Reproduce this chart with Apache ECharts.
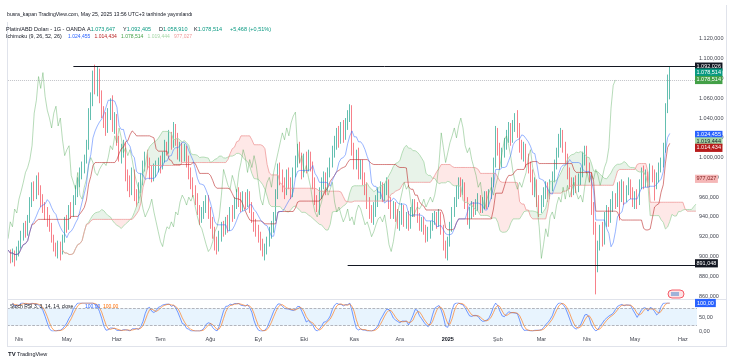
<!DOCTYPE html>
<html><head><meta charset="utf-8">
<script src="https://cdn.jsdelivr.net/npm/echarts/dist/echarts.min.js"></script>
<style>html,body{margin:0;padding:0;background:#fff}#c{width:751px;height:358px}</style>
</head><body><div id="c"></div>
<script>
// ---------- DATA ----------
const startDay = '2024-03-25';            // first bar (Monday)
const categoryCount = 317;                 // 305 daily bars + future space
const monthNames = ['Oca','Şub','Mar','Nis','May','Haz','Tem','Ağu','Eyl','Eki','Kas','Ara'];
// daily candles [open, close, low, high]
const candles = [
[910,904,899,914],[904,897,893,907],[897,903,894,908],[903,899,890,906],[899,906,896,910],
[906,912,900,916],[912,921,908,926],[921,930,916,934],[930,925,919,936],[925,938,921,942],
[938,955,934,960],[955,970,950,975],[970,962,956,976],[962,976,958,982],[976,968,962,985],
[968,958,950,972],[958,950,944,963],[950,944,937,955],[944,936,930,950],[936,930,925,942],
[930,918,914,934],[918,910,905,922],[910,906,900,914],[906,912,898,916],[912,905,896,915],
[905,918,902,922],[918,935,914,940],[935,930,924,942],[930,948,927,952],[948,944,938,955],
[944,958,940,962],[958,966,952,972],[966,975,960,980],[975,985,970,990],[985,990,978,996],
[990,998,984,1003],[998,1012,994,1018],[1012,1045,1008,1050],[1045,1058,1038,1066],[1058,1082,1052,1088],
[1082,1070,1064,1094],[1070,1086,1062,1092],[1086,1062,1055,1090],[1062,1048,1040,1068],[1048,1040,1030,1052],
[1040,1030,1022,1046],[1030,1045,1025,1050],[1045,1052,1038,1060],[1052,1032,1026,1063],[1032,1040,1024,1046],
[1040,1018,1012,1044],[1018,1002,996,1022],[1002,1008,994,1014],[1008,1012,1000,1018],[1012,982,976,1015],
[982,975,966,988],[975,968,960,982],[968,985,962,990],[985,962,956,988],[962,958,950,968],
[958,970,954,975],[970,978,964,984],[978,992,972,997],[992,1000,986,1006],[1000,995,988,1008],
[995,985,978,1000],[985,982,975,992],[982,988,976,994],[988,992,980,997],[992,995,985,1000],
[995,992,984,1002],[992,1000,988,1006],[1000,1012,995,1018],[1012,1008,1002,1016],[1008,1022,1004,1028],
[1022,1015,1008,1026],[1015,1030,1010,1036],[1030,1020,1012,1034],[1020,1005,998,1025],[1005,1010,996,1016],
[1010,1002,995,1015],[1002,1008,996,1014],[1008,998,990,1012],[998,985,978,1002],[985,975,968,990],
[975,968,960,980],[968,960,952,972],[960,948,942,964],[948,940,932,952],[940,945,934,950],
[945,950,938,956],[950,958,944,962],[958,945,938,962],[945,935,928,950],[935,925,918,940],
[925,915,906,930],[915,910,902,920],[910,922,905,926],[922,930,915,935],[930,928,920,936],
[928,935,922,940],[935,930,924,942],[930,945,926,950],[945,942,935,952],[942,955,938,960],
[955,962,948,968],[962,958,950,970],[958,952,945,965],[952,960,946,966],[960,956,948,965],
[956,962,950,968],[962,950,944,966],[950,940,934,955],[940,932,925,945],[932,928,920,938],
[928,920,914,932],[920,912,906,925],[912,905,900,918],[905,908,896,913],[908,915,902,920],
[915,925,910,930],[925,930,918,936],[930,940,924,945],[940,962,936,968],[962,988,958,994],
[988,980,972,995],[980,972,965,988],[972,968,958,980],[968,982,962,988],[982,975,968,990],
[975,965,958,980],[965,985,960,990],[985,995,980,1002],[995,1008,990,1014],[1008,1000,994,1016],
[1000,985,978,1005],[985,998,980,1004],[998,990,984,1006],[990,1002,986,1008],[1002,992,986,1006],
[992,975,968,996],[975,958,952,980],[958,952,945,962],[952,965,942,970],[965,975,958,980],
[975,980,968,986],[980,970,962,985],[970,985,966,990],[985,995,980,1000],[995,1005,990,1012],
[1005,1015,1000,1022],[1015,1025,1008,1030],[1025,1018,1010,1032],[1018,1030,1014,1036],[1030,1022,1015,1038],
[1022,1035,1018,1040],[1035,1042,1028,1048],[1042,1046,1036,1054],[1046,1008,1002,1053],[1008,995,988,1015],
[995,1002,988,1008],[1002,985,978,1010],[985,992,978,998],[992,980,972,998],[980,970,962,985],
[970,955,948,975],[955,945,938,960],[945,940,934,952],[940,948,932,955],[948,955,940,962],
[955,965,950,970],[965,970,958,976],[970,962,955,975],[962,968,956,974],[968,975,962,980],
[975,955,948,978],[955,945,938,960],[945,950,938,956],[950,942,935,955],[942,935,928,948],
[935,940,926,946],[940,948,932,954],[948,936,930,952],[936,940,928,945],[940,932,926,946],
[932,945,928,950],[945,952,940,958],[952,948,940,958],[948,940,934,955],[940,932,926,944],
[932,935,925,940],[935,928,922,940],[928,920,914,932],[920,925,915,930],[925,932,918,936],
[932,938,926,944],[938,940,932,946],[940,935,928,945],[935,942,930,948],[942,928,922,945],
[928,912,906,932],[912,905,898,916],[905,915,896,920],[915,930,910,935],[930,945,925,950],
[945,955,940,960],[955,965,950,972],[965,975,958,980],[975,968,960,980],[968,972,962,978],
[972,955,948,975],[955,940,932,960],[940,945,928,950],[945,950,938,956],[950,948,940,955],
[948,952,942,958],[952,958,946,964],[958,950,944,962],[950,955,944,960],[955,960,948,966],
[960,955,948,966],[955,962,950,968],[962,975,958,980],[975,995,970,1000],[995,1025,990,1032],
[1025,1010,1002,1030],[1010,995,988,1015],[995,1005,990,1010],[1005,1015,1000,1020],[1015,1022,1008,1028],
[1022,1030,1015,1036],[1030,1020,1012,1035],[1020,1032,1015,1038],[1032,1040,1026,1045],[1040,1030,1020,1048],
[1030,1012,1005,1035],[1012,1005,998,1018],[1005,1010,996,1016],[1010,998,990,1014],[998,990,984,1004],
[990,982,975,996],[982,970,962,988],[970,975,960,980],[975,958,950,978],[958,948,940,962],
[948,958,944,962],[958,965,950,970],[965,970,958,976],[970,962,955,975],[962,972,958,978],
[972,980,966,986],[980,992,975,998],[992,1005,988,1010],[1005,1018,1000,1024],[1018,1022,1010,1030],
[1022,1012,1005,1028],[1012,1000,994,1016],[1000,985,978,1004],[985,975,968,990],[975,968,960,980],
[968,975,962,980],[975,970,964,982],[970,978,965,984],[978,985,972,990],[985,1000,980,1006],
[1000,1008,992,1012],[1008,990,984,1012],[990,982,975,995],[982,950,942,985],[950,930,922,955],
[930,898,861.649,935],[898,912,884,916],[912,928,906,932],[928,920,910,935],[920,940,912,945],
[940,945,930,952],[945,938,930,950],[938,952,934,958],[952,960,945,966],[960,955,948,964],
[955,970,950,975],[970,958,936.463,976],[958,972,955,978],[972,960,952,976],[960,968,955,972],
[968,975,962,980],[975,965,958,978],[965,958,950,970],[958,962,948,966],[962,955,948,968],
[955,972,952,978],[972,985,968,990],[985,975,968,992],[975,982,970,988],[982,978,970,986],
[978,988,970,994],[988,982,975,992],[982,972,956.505,988],[972,980,968,985],[980,990,975,995],
[990,996,985,1000],[996,1010,990,1015],[1010,1050,1005,1055],[1050,1073.046,1045,1084],[1073.647,1078.514,1058.91,1092.405]
];
const priceTicks = [860,880,900,920,940,960,980,1000,1020,1040,1060,1080,1100,1120,1140];
const levelHigh = 1092.026, levelHighStart = 30;
const levelLow = 891.048, levelLowStart = 156;
const lastClose = 1078.514;
const ohlcHeader = ['1.073,647','1.092,405','1.058,910','1.078,514','+5,468 (+0,51%)'];
const ichiHeader = ['1.024,455','1.014,434','1.078,514','1.019,444','977,027'];
const stochHeader = ['100,00','100,00'];
// ---------- helpers ----------
const categories = [];
{ const d = new Date(startDay + 'T00:00:00Z');
  while (categories.length < categoryCount) { const w = d.getUTCDay(); if (w !== 0 && w !== 6) categories.push(d.toISOString().slice(0,10)); d.setUTCDate(d.getUTCDate()+1); } }
const isMonthStart = categories.map((c,i) => i > 0 && c.slice(5,7) !== categories[i-1].slice(5,7));
function tr(v, d) { const s = v.toFixed(d); let [ip, fp] = s.split('.'); ip = ip.replace(/\B(?=(\d{3})+(?!\d))/g, '.'); return fp ? ip + ',' + fp : ip; }
const N = candles.length;
const close = candles.map(c => c[1]), low = candles.map(c => c[2]), high = candles.map(c => c[3]);
function mid(i, len) { let mx = -Infinity, mn = Infinity; for (let k = Math.max(0, i-len+1); k <= i; k++) { mx = Math.max(mx, high[k]); mn = Math.min(mn, low[k]); } return (mx+mn)/2; }
const blank = () => new Array(categoryCount).fill('-');
const tenkan = blank(), kijun = blank(), spanA = blank(), spanB = blank(), lag = blank();
for (let i = 0; i < N; i++) {
  tenkan[i] = mid(i, 9); kijun[i] = mid(i, 26);
  if (i + 25 < categoryCount) { spanA[i+25] = (tenkan[i] + kijun[i]) / 2; spanB[i+25] = mid(i, 52); }
  if (i - 25 >= 0) lag[i-25] = close[i];
}
const cloudBase = blank(), cloudUp = blank(), cloudDn = blank();
for (let j = 0; j < categoryCount; j++) {
  if (spanA[j] !== '-' && spanB[j] !== '-') {
    cloudBase[j] = Math.min(spanA[j], spanB[j]);
    cloudUp[j] = Math.max(spanA[j] - spanB[j], 0);
    cloudDn[j] = Math.max(spanB[j] - spanA[j], 0);
  }
}
// Stoch RSI (3,3,14,14)
const rsi = new Array(N).fill(null); let ag = 0, al = 0;
for (let i = 1; i < N; i++) { const ch = close[i]-close[i-1]; const g = Math.max(ch,0), l = Math.max(-ch,0);
  if (i <= 14) { ag = (ag*(i-1)+g)/i; al = (al*(i-1)+l)/i; } else { ag = (ag*13+g)/14; al = (al*13+l)/14; }
  rsi[i] = al === 0 ? 100 : 100 - 100/(1+ag/al); }
const st = new Array(N).fill(null);
for (let i = 2; i < N; i++) { let mx=-Infinity, mn=Infinity; for (let k = Math.max(1,i-13); k <= i; k++) { mx=Math.max(mx,rsi[k]); mn=Math.min(mn,rsi[k]); } st[i] = mx===mn ? 50 : (rsi[i]-mn)/(mx-mn)*100; }
const K = blank(), D = blank();
for (let i = 2; i < N; i++) { let s=0,n=0; for (let k=Math.max(2,i-2);k<=i;k++){s+=st[k];n++;} K[i]=s/n; }
for (let i = 2; i < N; i++) { let s=0,n=0; for (let k=Math.max(2,i-2);k<=i;k++){s+=K[k];n++;} D[i]=s/n; }

// ---------- CHART ----------
const FONT = 'Liberation Sans, Arial, sans-serif';
const chart = echarts.init(document.getElementById('c'), null, {width:751, height:358});
const lineS = (name, data, color, w, op, z) => ({ type:'line', name, data, xAxisIndex:0, yAxisIndex:0, showSymbol:false, symbol:'none', silent:true, z: z||3,
  lineStyle:{color, width:w, opacity:op}, animation:false });
const cloudS = (data, fill) => ({ type:'line', data, stack:'kumo', xAxisIndex:0, yAxisIndex:0, showSymbol:false, symbol:'none', silent:true, z:1,
  lineStyle:{width:0, opacity:0}, areaStyle: fill ? {color:fill, opacity:1} : undefined, animation:false });
chart.setOption({
  animation:false,
  backgroundColor:'#ffffff',
  grid:[{left:7, right:54, top:19.2, bottom:62}, {left:7, right:54, top:303, bottom:27}],
  xAxis:[
    {type:'category', gridIndex:0, data:categories, show:false},
    {type:'category', gridIndex:1, data:categories, axisLine:{show:false}, axisTick:{show:false}, splitLine:{show:false},
     axisLabel:{margin:5, fontSize:5.5, fontFamily:FONT, color:'#434651', interval:(i)=>isMonthStart[i],
       formatter:(v)=>{ const m = +v.slice(5,7)-1; return m===0 ? '{b|'+v.slice(0,4)+'}' : monthNames[m]; },
       rich:{b:{fontWeight:'bold', fontSize:5.5, fontFamily:FONT, color:'#131722'}}}}
  ],
  yAxis:[
    {type:'value', gridIndex:0, position:'right', min:priceTicks[0], max:priceTicks[priceTicks.length-1], interval:20, scale:true,
     axisLine:{show:false}, axisTick:{show:false}, splitLine:{show:false},
     axisLabel:{margin:2, fontSize:5.5, fontFamily:FONT, color:'#434651', formatter:(v)=> v>=1140 ? '' : tr(v,3)}},
    {type:'value', gridIndex:1, position:'right', min:0, max:100, interval:50,
     axisLine:{show:false}, axisTick:{show:false}, splitLine:{show:false},
     axisLabel:{margin:2, fontSize:5.5, fontFamily:FONT, color:'#434651', formatter:(v)=>tr(v,2)}}
  ],
  series:[
    cloudS(cloudBase, null),
    cloudS(cloudUp, 'rgba(67,160,71,0.12)'),
    cloudS(cloudDn, 'rgba(244,67,54,0.12)'),
    {type:'candlestick', data:candles, xAxisIndex:0, yAxisIndex:0, barWidth:1, z:2, silent:true,
     itemStyle:{color:'#089981', color0:'#F23645', borderColor:'#089981', borderColor0:'#F23645', borderWidth:0.7, opacity:0.9},
     markLine:{symbol:['none','none'], silent:true, label:{show:false}, animation:false,
       lineStyle:{color:'#131722', width:1, type:'solid'},
       data:[
         [{coord:[levelHighStart, levelHigh]}, {coord:[categoryCount-1, levelHigh]}],
         [{coord:[levelLowStart, levelLow]}, {coord:[categoryCount-1, levelLow]}],
         [{coord:[0, lastClose], lineStyle:{type:'dotted', color:'rgba(120,123,134,0.45)', width:1}}, {coord:[categoryCount-1, lastClose]}]
       ]}},
    lineS('spanA', spanA, '#A5D6A7', 0.8, 1),
    lineS('spanB', spanB, '#EF9A9A', 0.8, 1),
    lineS('lag', lag, '#43A047', 0.7, 0.55),
    lineS('kijun', kijun, '#B71C1C', 0.8, 0.7),
    lineS('tenkan', tenkan, '#2962FF', 0.8, 0.6),
    {type:'line', data:K, xAxisIndex:1, yAxisIndex:1, showSymbol:false, symbol:'none', silent:true, z:3,
     lineStyle:{color:'#2962FF', width:0.8, opacity:0.8},
     markArea:{silent:true, itemStyle:{color:'rgba(33,150,243,0.1)'}, data:[[{yAxis:20, x:7}, {yAxis:80, x:697}]]},
     markLine:{symbol:['none','none'], silent:true, label:{show:false}, lineStyle:{color:'#9598A1', type:'dashed', width:0.7},
       data:[{yAxis:80}, {yAxis:20}]}},
    {type:'line', data:D, xAxisIndex:1, yAxisIndex:1, showSymbol:false, symbol:'none', silent:true, z:3,
     lineStyle:{color:'#FF6D00', width:0.8, opacity:0.75}}
  ]
});

// ---------- overlays: value labels, legends, frame ----------
const py = (v) => chart.convertToPixel({yAxisIndex:0}, v);
const sy = (v) => chart.convertToPixel({yAxisIndex:1}, v);
const box = (txt, y, bg, fg) => ({type:'text', z:50, style:{text:txt, x:695, y, align:'left', verticalAlign:'middle',
  font:'5.5px ' + FONT, fill:fg, backgroundColor:bg, padding:[1.2,1.5,1,1.5]}});
const txt = (t, x, y, color, size, weight) => ({type:'text', z:50, style:{text:t, x, y, verticalAlign:'middle',
  font:(weight||'normal') + ' ' + (size||5.5) + 'px ' + FONT, fill:color}});
const hl = (x1,y1,x2,y2) => ({type:'line', z:40, silent:true, shape:{x1,y1,x2,y2}, style:{stroke:'#E0E3EB', lineWidth:1}});
const rt = (lab, val, x) => ({type:'text', z:50, style:{x, y:29, verticalAlign:'middle', text:'{l|'+lab+'}{v|'+val+'}',
  rich:{l:{fill:'#131722',font:'5.5px '+FONT},v:{fill:'#089981',font:'5.5px '+FONT}}}});
const g = [
  hl(7.5,22,7.5,347), hl(726.5,5,726.5,347), hl(7,299.5,727,299.5), hl(7,346.5,727,346.5),
  box(tr(levelHigh,3), py(levelHigh), '#131722', '#ffffff'),
  box(tr(lastClose,3), py(lastClose)-7.5, '#089981', '#ffffff'),
  box(tr(lastClose,3), py(lastClose), '#43A047', '#ffffff'),
  box(ichiHeader[0], py(1024.455)+1.5, '#2962FF', '#ffffff'),
  box(ichiHeader[3], py(1019.444)+3, '#A5D6A7', '#131722'),
  box(ichiHeader[1], py(1014.434)+4.5, '#B71C1C', '#ffffff'),
  box(ichiHeader[4], py(977.027)-1.5, '#F5B7B7', '#7f1d1d'),
  box(tr(levelLow,3), py(levelLow)-2, '#131722', '#ffffff'),
  {type:'text', z:50, style:{text:stochHeader[0], x:695, y:sy(100), verticalAlign:'middle', font:'5.5px '+FONT, fill:'#fff', backgroundColor:'#2962FF', padding:[1.2,2,1,2]}},
  txt('busra_kapan TradingView.com, May 25, 2025 13:56 UTC+3 tarihinde yayımlandı', 7, 15, '#131722', 5.2),
  txt('Platin/ABD Doları - 1G - OANDA', 6, 29, '#131722', 5.5),
  rt('A', ohlcHeader[0], 87), rt('Y', ohlcHeader[1], 123), rt('D', ohlcHeader[2], 159), rt('K', ohlcHeader[3], 194),
  txt(ohlcHeader[4], 230, 29, '#089981', 5.5),
  txt('Ichimoku (9, 26, 52, 26)', 6, 37, '#131722', 5.3),
  txt(ichiHeader[0], 68, 37, '#2962FF', 5),
  txt(ichiHeader[1], 94.5, 37, '#B71C1C', 5),
  txt(ichiHeader[2], 121, 37, '#43A047', 5),
  txt(ichiHeader[3], 147.5, 37, '#A5D6A7', 5),
  txt(ichiHeader[4], 174, 37, '#EF9A9A', 5),
  txt('Stoch RSI 3, 3, 14, 14, close', 10, 307, '#131722', 5),
  txt(stochHeader[0], 85, 307, '#2962FF', 5),
  txt(stochHeader[1], 103, 307, '#FF6D00', 5),
  txt('TV', 8, 354, '#131722', 6, 'bold'),
  txt('TradingView', 17, 354, '#131722', 5.5),
  {type:'rect', z:50, shape:{x:668, y:290, width:16, height:8, r:4}, style:{fill:'#fde4e6', stroke:'#F23645', lineWidth:0.8}},
  {type:'rect', z:51, shape:{x:671, y:292, width:8, height:4}, style:{fill:'#9fb3d9'}}
];
chart.setOption({graphic:g});
</script></body></html>
